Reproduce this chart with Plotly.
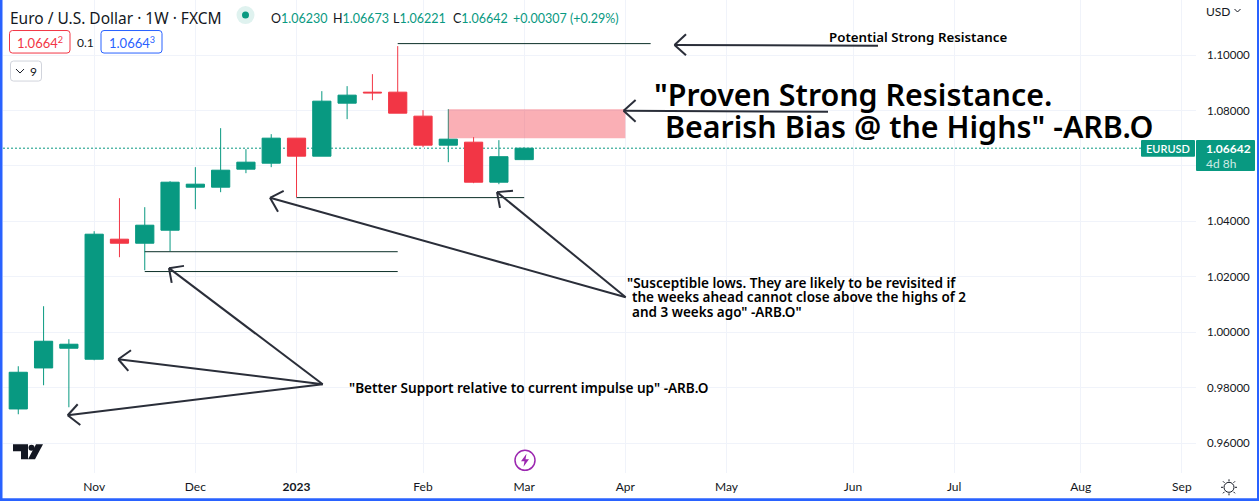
import plotly.graph_objects as go

# weekly EUR/USD candles
dates = ["2022-10-10", "2022-10-17", "2022-10-24", "2022-10-31", "2022-11-07", "2022-11-14", "2022-11-21",
         "2022-11-28", "2022-12-05", "2022-12-12", "2022-12-19", "2022-12-26", "2023-01-02", "2023-01-09",
         "2023-01-16", "2023-01-23", "2023-01-30", "2023-02-06", "2023-02-13", "2023-02-20", "2023-02-27"]
opens = [0.97231, 0.98711, 0.99423, 0.99026, 1.03358, 1.03213, 1.03682, 1.05235, 1.05235, 1.05885, 1.06101,
         1.07004, 1.06354, 1.08267, 1.08664, 1.08664, 1.07798, 1.06751, 1.06859, 1.05415, 1.06230]
highs = [0.98773, 1.00939, 0.99748, 1.03646, 1.04838, 1.04513, 1.05451, 1.05957, 1.07365, 1.06607, 1.07148,
         1.07004, 1.08700, 1.08881, 1.09314, 1.10325, 1.08014, 1.08051, 1.07040, 1.06931, 1.06673]
lows = [0.97040, 0.98087, 0.97293, 0.98989, 1.02708, 1.02238, 1.02924, 1.04441, 1.05054, 1.05740, 1.05957,
        1.04874, 1.06354, 1.07690, 1.08375, 1.07906, 1.06679, 1.06137, 1.05379, 1.05343, 1.06221]
closes = [0.98556, 0.99675, 0.99567, 1.03538, 1.03213, 1.03863, 1.05415, 1.05343, 1.05848, 1.06137, 1.07004,
          1.06354, 1.08339, 1.08556, 1.08639, 1.07906, 1.06751, 1.06968, 1.05415, 1.06335, 1.06642]

tick_dates = ["2022-10-31", "2022-11-28", "2022-12-26", "2023-01-30", "2023-02-27", "2023-03-27", "2023-04-24",
              "2023-05-29", "2023-06-26", "2023-07-31", "2023-08-28"]
tick_names = ["Nov", "Dec", "<b>2023</b>", "Feb", "Mar", "Apr", "May", "Jun", "Jul", "Aug", "Sep"]
price_ticks = [0.96, 0.98, 1.00, 1.02, 1.04, 1.06, 1.08, 1.10]

# drawn levels: start, end, price
levels = [("2023-01-23", "2023-04-03", 1.10416),
          ("2022-11-14", "2023-01-23", 1.02906),
          ("2022-11-14", "2023-01-23", 1.02190),
          ("2022-12-26", "2023-02-27", 1.04858)]
zone = ("2023-02-06", "2023-03-27", 1.07005, 1.08050)

# pen arrows on screen: tip, tail, barb, barb
arrows = [((674.5, 45), (878, 45.7), (686, 34.3), (686, 55.3)),
          ((623.6, 110.7), (828, 111.7), (635.6, 100), (635.6, 121.7)),
          ((270, 197.7), (625.7, 297), (283.7, 190.7), (278, 211.7)),
          ((497, 192), (625.7, 297), (513, 190.7), (500, 207.7)),
          ((169, 268), (322.7, 384), (184, 265.7), (171.7, 282.7)),
          ((118.3, 359), (322.7, 384), (131, 350), (128.3, 370.7)),
          ((67.7, 415), (322.7, 384), (77.7, 404), (80.3, 424.7))]

UP = "#089981"
DOWN = "#F23645"
BLUE = "#2962FF"
INK = "#131722"
GRID = "#F0F3FA"
PEN = "#2A2E39"
FONT = "Lato"
NOTE = "Noto Sans"

W, H = 1259, 501
L, R, B = 3, 1196, 472.7


def fx(x):
    return (x - L) / (R - L)


def fy(y):
    return 1 - y / B


def text(x, y, s, size=12, color=INK, anchor="left", weight=None, family=FONT):
    # left aligned annotations carry about 2px of padding
    if anchor == "left":
        x -= 2
    return dict(xref="paper", yref="paper", x=fx(x), y=fy(y), text=s, showarrow=False, xanchor=anchor,
                yanchor="middle", font=dict(size=size, color=color, family=family, weight=weight))


def seg(x0, y0, x1, y1, color=PEN, width=2):
    return dict(type="line", xref="paper", yref="paper", x0=fx(x0), y0=fy(y0), x1=fx(x1), y1=fy(y1),
                line=dict(color=color, width=width), layer="above")


def box(x0, y0, x1, y1, fill, line=None, r=0):
    # rounded rectangle as a path
    p = (f"M{fx(x0 + r)},{fy(y0)} L{fx(x1 - r)},{fy(y0)} Q{fx(x1)},{fy(y0)} {fx(x1)},{fy(y0 + r)} "
         f"L{fx(x1)},{fy(y1 - r)} Q{fx(x1)},{fy(y1)} {fx(x1 - r)},{fy(y1)} L{fx(x0 + r)},{fy(y1)} "
         f"Q{fx(x0)},{fy(y1)} {fx(x0)},{fy(y1 - r)} L{fx(x0)},{fy(y0 + r)} Q{fx(x0)},{fy(y0)} {fx(x0 + r)},{fy(y0)} Z")
    return dict(type="path", xref="paper", yref="paper", path=p, fillcolor=fill, layer="above",
                line=dict(color=line or fill, width=1 if line else 0))


def poly(points, fill):
    p = "M" + " L".join(f"{fx(x)},{fy(y)}" for x, y in points) + " Z"
    return dict(type="path", xref="paper", yref="paper", path=p, fillcolor=fill, line=dict(width=0), layer="above")


def circle(cx, cy, r, fill="rgba(0,0,0,0)", line=None, width=1.5):
    return dict(type="circle", xref="paper", yref="paper", x0=fx(cx - r), x1=fx(cx + r), y0=fy(cy + r), y1=fy(cy - r),
                fillcolor=fill, line=dict(color=line or fill, width=width if line else 0), layer="above")


fig = go.Figure(go.Candlestick(
    x=dates, open=opens, high=highs, low=lows, close=closes,
    increasing=dict(line=dict(color=UP, width=1), fillcolor=UP),
    decreasing=dict(line=dict(color=DOWN, width=1), fillcolor=DOWN),
    whiskerwidth=0,
))

shapes = []
for x0, x1, price in levels:
    shapes.append(dict(type="line", x0=x0, x1=x1, y0=price, y1=price, line=dict(color="#0B2F27", width=1), layer="above"))
shapes.append(dict(type="rect", x0=zone[0], x1=zone[1], y0=zone[2], y1=zone[3], fillcolor="rgba(242,54,69,0.4)",
                   line=dict(width=0), layer="above"))
shapes.append(dict(type="line", xref="paper", x0=0, x1=fx(1141), y0=closes[-1], y1=closes[-1],
                   line=dict(color=UP, width=1, dash="2px,2px"), layer="below"))

for tip, tail, b1, b2 in arrows:
    shapes.append(seg(*tip, *tail))
    shapes.append(seg(*tip, *b1))
    shapes.append(seg(*tip, *b2))

# window frame
shapes.append(poly([(0, 0), (2.5, 0), (2.5, H), (0, H)], BLUE))
shapes.append(poly([(0, 498), (W, 498), (W, H), (0, H)], BLUE))
shapes.append(poly([(1257, 0), (W, 0), (W, H), (1257, H)], BLUE))

# legend widgets
shapes.append(circle(245.5, 15, 9, "#DFF2EF"))
shapes.append(circle(245.5, 15, 3.5, UP))
shapes.append(box(9.5, 30.5, 70, 53, "white", DOWN, 3))
shapes.append(box(101, 30.5, 162, 53, "white", BLUE, 3))
shapes.append(box(10.5, 61, 41.5, 81, "white", "#D1D4DC", 3))
shapes.append(seg(16, 69, 20, 73, INK, 1))
shapes.append(seg(20, 73, 24, 69, INK, 1))
shapes.append(seg(1234.5, 9, 1237.5, 12, INK, 1))
shapes.append(seg(1237.5, 12, 1240.5, 9, INK, 1))

# last price tags
shapes.append(box(1141, 140, 1195, 156.7, UP, None, 1))
shapes.append(box(1196, 140, 1255, 171, UP, None, 1))

# logo
shapes.append(poly([(13, 444), (28, 444), (28, 459), (21, 459), (21, 451), (13, 451)], INK))
shapes.append(circle(31.5, 447.5, 3, INK))
shapes.append(poly([(36, 444), (43, 444), (35, 459), (28, 459)], INK))

# lightning badge
shapes.append(circle(525, 460, 10, "white", "#9C27B0", 1.5))
shapes.append(poly([(526.5, 453.5), (521, 461), (524.5, 461), (523.5, 466.5), (529, 459), (525.5, 459)], "#9C27B0"))

# settings icon
shapes.append(circle(1229, 487, 5, "white", INK, 1))
for x0, y0, x1, y1 in [(1229, 479, 1229, 481), (1229, 493, 1229, 495), (1221, 487, 1223, 487), (1235, 487, 1237, 487),
                       (1223, 481, 1224.5, 482.5), (1233.5, 491.5, 1235, 493), (1223, 493, 1224.5, 491.5), (1233.5, 482.5, 1235, 481)]:
    shapes.append(seg(x0, y0, x1, y1, INK, 1))

notes = [
    text(10, 18, "Euro / U.S. Dollar · 1W · FXCM", 15.5, family=NOTE),
    text(271, 18, f"O<span style='color:{UP}'>1.06230</span>", 12.5),
    text(333, 18, f"H<span style='color:{UP}'>1.06673</span>", 12.5),
    text(393, 18, f"L<span style='color:{UP}'>1.06221</span>", 12.5),
    text(453, 18, f"C<span style='color:{UP}'>1.06642</span>", 12.5),
    text(513, 18, "+0.00307 (+0.29%)", 12.5, UP),
    text(39.5, 42, "1.0664<sup>2</sup>", 13, DOWN, "center"),
    text(85.5, 42, "0.1", 12, INK, "center"),
    text(131.5, 42, "1.0664<sup>3</sup>", 13, BLUE, "center"),
    text(33.5, 71, "9", 12, INK, "center"),
    text(1206, 11, "USD", 12),
    text(829, 37, "Potential Strong Resistance", 13.3, "#000000", weight=600, family=NOTE),
    text(654, 94, "\"Proven Strong Resistance.", 30.4, "#000000", weight=600, family=NOTE),
    text(665, 126, "Bearish Bias @ the Highs\" -ARB.O", 30.4, "#000000", weight=600, family=NOTE),
    text(627, 282, "\"Susceptible lows. They are likely to be revisited if", 13.6, "#000000", weight=600, family=NOTE),
    text(632, 297, "the weeks ahead cannot close above the highs of 2", 13.5, "#000000", weight=600, family=NOTE),
    text(632, 312, "and 3 weeks ago\" -ARB.O\"", 13.5, "#000000", weight=600, family=NOTE),
    text(349, 387, "\"Better Support relative to current impulse up\" -ARB.O", 13.6, "#000000", weight=600, family=NOTE),
    text(1168, 148.5, "EURUSD", 11, "white", "center", 600),
    text(1206, 148.5, "1.06642", 12, "white", "left", 700),
    text(1206, 163, "4d 8h", 12, "#CFEBE6", "left"),
]

fig.update_layout(
    width=W, height=H, margin=dict(l=L, r=W - R, t=0, b=H - B), paper_bgcolor="white", plot_bgcolor="white",
    font=dict(family=FONT, size=12, color=INK), showlegend=False, boxgap=0.28, boxgroupgap=0,
    shapes=shapes, annotations=notes,
    xaxis=dict(type="date", range=["2022-10-05 18:30", "2023-08-31 22:00"], tickvals=tick_dates, ticktext=tick_names,
               tickangle=0, showgrid=True, gridcolor=GRID, gridwidth=1, zeroline=False, showline=False, ticks="outside",
               ticklen=3, tickcolor="rgba(0,0,0,0)", rangeslider=dict(visible=False)),
    yaxis=dict(side="right", range=[0.9492, 1.1199], tickvals=price_ticks, tickformat=".5f", showgrid=True,
               gridcolor=GRID, gridwidth=1, zeroline=False, showline=False, ticks="", ticklabelstandoff=10,
               tickfont=dict(size=11.5)),
)

fig.write_html("out.html", config=dict(displayModeBar=False), post_script="document.body.style.margin='0';")
